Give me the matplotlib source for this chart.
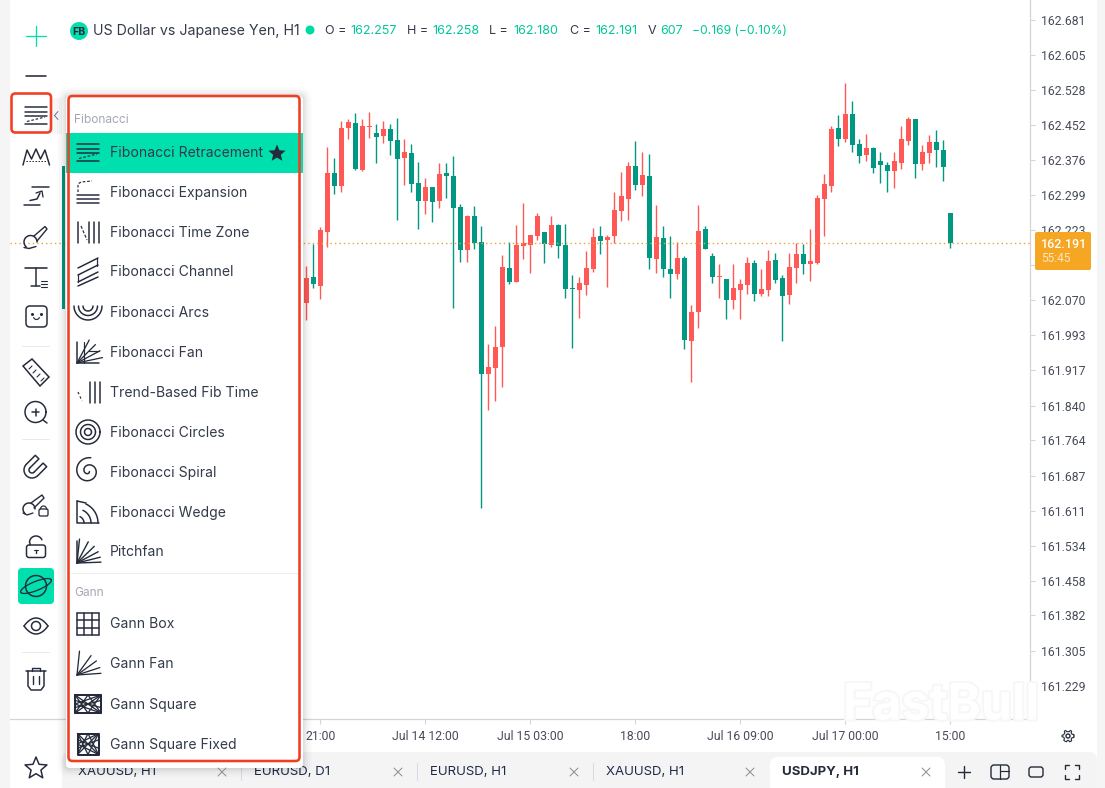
import numpy as np
import matplotlib
matplotlib.use('Agg')
import matplotlib.pyplot as plt
import matplotlib.patheffects as pe
from matplotlib.patches import Rectangle, FancyBboxPatch, Circle, Polygon

W, H = 1105, 788

# candle data (USDJPY H1), one value per candle
opens = [162.061, 162.118, 162.098, 162.216, 162.345, 162.316, 162.443, 162.454, 162.351, 162.445,
         162.432, 162.425, 162.441, 162.417, 162.377, 162.388, 162.323, 162.283, 162.314, 162.283,
         162.345, 162.338, 162.270, 162.177, 162.251, 162.194, 161.906, 161.919, 161.965, 162.137,
         162.107, 162.185, 162.187, 162.207, 162.216, 162.187, 162.231, 162.187, 162.094, 162.089,
         162.100, 162.135, 162.207, 162.198, 162.207, 162.262, 162.288, 162.360, 162.318, 162.338,
         162.157, 162.203, 162.135, 162.124, 162.159, 161.978, 162.041, 162.222, 162.163, 162.118,
         162.113, 162.067, 162.089, 162.100, 162.148, 162.081, 162.089, 162.155, 162.115, 162.078,
         162.137, 162.168, 162.146, 162.148, 162.288, 162.316, 162.443, 162.419, 162.473, 162.408,
         162.384, 162.399, 162.371, 162.362, 162.349, 162.366, 162.414, 162.462, 162.364, 162.388,
         162.412, 162.395, 162.257]
closes = [162.115, 162.102, 162.220, 162.345, 162.316, 162.443, 162.456, 162.353, 162.447, 162.447,
          162.423, 162.441, 162.414, 162.375, 162.390, 162.321, 162.283, 162.314, 162.281, 162.342,
          162.338, 162.268, 162.177, 162.251, 162.192, 161.906, 161.921, 161.965, 162.139, 162.107,
          162.187, 162.192, 162.209, 162.251, 162.190, 162.231, 162.185, 162.091, 162.092, 162.105,
          162.137, 162.205, 162.196, 162.205, 162.264, 162.294, 162.360, 162.318, 162.340, 162.159,
          162.205, 162.135, 162.124, 162.159, 161.980, 162.041, 162.218, 162.179, 162.118, 162.120,
          162.067, 162.094, 162.102, 162.148, 162.081, 162.091, 162.152, 162.111, 162.076, 162.139,
          162.168, 162.146, 162.152, 162.290, 162.321, 162.441, 162.419, 162.473, 162.406, 162.382,
          162.399, 162.355, 162.362, 162.349, 162.371, 162.419, 162.462, 162.364, 162.390, 162.412,
          162.395, 162.358, 162.191]
highs = [162.141, 162.189, 162.226, 162.401, 162.377, 162.457, 162.462, 162.475, 162.462, 162.477,
         162.451, 162.457, 162.451, 162.464, 162.418, 162.407, 162.368, 162.333, 162.314, 162.366,
         162.366, 162.381, 162.276, 162.253, 162.272, 162.228, 161.971, 162.010, 162.166, 162.193,
         162.230, 162.278, 162.209, 162.257, 162.216, 162.251, 162.233, 162.233, 162.122, 162.118,
         162.174, 162.224, 162.229, 162.209, 162.302, 162.346, 162.368, 162.414, 162.390, 162.387,
         162.274, 162.228, 162.206, 162.193, 162.163, 162.056, 162.274, 162.228, 162.169, 162.146,
         162.113, 162.147, 162.113, 162.161, 162.154, 162.134, 162.176, 162.169, 162.123, 162.171,
         162.191, 162.189, 162.222, 162.296, 162.342, 162.446, 162.470, 162.540, 162.501, 162.418,
         162.429, 162.401, 162.390, 162.368, 162.390, 162.446, 162.466, 162.462, 162.405, 162.427,
         162.438, 162.416, 162.258]
lows = [162.024, 162.094, 162.070, 162.184, 162.299, 162.303, 162.419, 162.351, 162.349, 162.421,
        162.366, 162.410, 162.384, 162.242, 162.318, 162.303, 162.222, 162.255, 162.238, 162.268,
        162.290, 162.050, 162.150, 162.150, 162.179, 161.614, 161.827, 161.847, 161.878, 162.102,
        162.107, 162.157, 162.126, 162.198, 162.148, 162.183, 162.159, 162.072, 161.963, 162.028,
        162.078, 162.129, 162.168, 162.096, 162.192, 162.240, 162.242, 162.307, 162.294, 162.135,
        162.126, 162.118, 162.072, 162.113, 161.960, 161.888, 162.006, 162.179, 162.105, 162.072,
        162.026, 162.048, 162.026, 162.081, 162.065, 162.076, 162.076, 162.105, 161.978, 162.059,
        162.105, 162.124, 162.109, 162.146, 162.207, 162.303, 162.403, 162.412, 162.390, 162.366,
        162.371, 162.345, 162.323, 162.303, 162.312, 162.353, 162.406, 162.334, 162.351, 162.366,
        162.358, 162.327, 162.180]
last_price = 162.191

# axis labels
price_ticks = [162.681, 162.605, 162.528, 162.452, 162.376, 162.299, 162.223, 162.146, 162.070, 161.993,
               161.917, 161.840, 161.764, 161.687, 161.611, 161.534, 161.458, 161.382, 161.305, 161.229]
hidden_tick = 162.146  # sits behind the price badge, only its tick mark shows
time_idx = [2, 17, 32, 47, 62, 77, 92]
time_labels = ['21:00', 'Jul 14 12:00', 'Jul 15 03:00', '18:00', 'Jul 16 09:00', 'Jul 17 00:00', '15:00']

# menu and tabs
fib_items = ['Fibonacci Retracement', 'Fibonacci Expansion', 'Fibonacci Time Zone', 'Fibonacci Channel',
             'Fibonacci Arcs', 'Fibonacci Fan', 'Trend-Based Fib Time', 'Fibonacci Circles',
             'Fibonacci Spiral', 'Fibonacci Wedge', 'Pitchfan']
gann_items = ['Gann Box', 'Gann Fan', 'Gann Square', 'Gann Square Fixed']
tab_names = ['XAUUSD, H1', 'EURUSD, D1', 'EURUSD, H1', 'XAUUSD, H1', 'USDJPY, H1']

RED = '#ff5855'
TEAL = '#009783'
MINT = '#00e0ae'
DARK = '#252b3b'
BORDER = '#f04024'
GRID = '#d4d5d8'
ORANGE = '#f5a623'

fig = plt.figure(figsize=(W / 100, H / 100), dpi=100, facecolor='white')

# main chart axes: 1 candle = 7 px, first candle at x = 306.3
ax = fig.add_axes([10 / W, (H - 719) / H, 1020 / W, 719 / H])
ax.set_xlim((10 - 306.3) / 7, (1030 - 306.3) / 7)
ax.set_ylim(162.722 - 719 * 0.002182, 162.722)

idx = np.arange(len(opens))
o, c, hi, lo = map(np.array, (opens, closes, highs, lows))
cols = [RED if a >= b else TEAL for a, b in zip(c, o)]
ax.vlines(idx, lo, hi, colors=cols, lw=1.0, zorder=2)
ax.bar(idx, np.maximum(np.abs(c - o), 0.0007), bottom=np.minimum(o, c), width=5 / 7, color=cols, zorder=3, lw=0)
ax.axhline(last_price, color='#e8a530', lw=1.0, ls=(0, (1, 2.2)), zorder=4)

for s in ('top', 'left'):
    ax.spines[s].set_visible(False)
for s in ('right', 'bottom'):
    ax.spines[s].set_color(GRID)
    ax.spines[s].set_linewidth(0.9)
ax.yaxis.tick_right()
ax.set_yticks(np.array(price_ticks) - 0.003)
ax.set_yticklabels(['' if p == hidden_tick else '%.3f' % p for p in price_ticks], family='Roboto', fontsize=8.8, color='#474c59')
ax.set_xticks(time_idx)
ax.set_xticklabels(time_labels, family='Roboto', fontsize=8.8, color='#474c59')
ax.tick_params(axis='y', length=3.6, width=0.8, color=GRID, pad=4.0)
ax.tick_params(axis='x', length=3.6, width=0.8, color=GRID, pad=4.0)

# overlay in pixel coordinates for the app chrome
over = fig.add_axes([0, 0, 1, 1], zorder=5)
over.set_xlim(0, W)
over.set_ylim(H, 0)
over.axis('off')
over.patch.set_alpha(0)


def ln(xs, ys, lw=1.5, col=DARK, **kw):
    kw.setdefault('solid_capstyle', 'round')
    over.plot(xs, ys, color=col, lw=lw * 0.72, zorder=5, **kw)


def rect(x, y, w, h, col, z=1, alpha=1.0):
    over.add_patch(Rectangle((x, y), w, h, fc=col, ec='none', zorder=z, alpha=alpha))


def rrect(x, y, w, h, r, fc='none', ec='none', lw=0, z=2):
    over.add_patch(FancyBboxPatch((x + r, y + r), w - 2 * r, h - 2 * r, boxstyle='round,pad=%f,rounding_size=%f' % (r, r),
                                  fc=fc, ec=ec, lw=lw * 0.72, zorder=z))


def txt(x, y, s, size=14, col=DARK, fam='Inter', **kw):
    kw.setdefault('va', 'center')
    z = kw.pop('z', 6)
    return over.text(x, y + 1, s, fontsize=size * 0.72, color=col, family=fam, zorder=z, **kw)


def arc(cx, cy, r, a0, a1, lw=1.5, col=DARK):
    t = np.radians(np.linspace(a0, a1, 40))
    ln(cx + r * np.cos(t), cy + r * np.sin(t), lw=lw, col=col)


def rays(x0, y0, angles, r, lw=1.4):
    for a in angles:
        t = np.radians(a)
        ln([x0, x0 + r * np.cos(t)], [y0, y0 - r * np.sin(t)], lw=lw)


# icons, all centred on (x, y)
def ic_retr(x, y):
    for dy in (-8, -3.5, 1, 8.5):
        ln([x - 11, x + 11], [y + dy, y + dy])
    ln([x - 9, x + 9], [y + 6.5, y + 2], ls=(0, (2.2, 1.5)), lw=1.2)


def ic_expand(x, y):
    for dy in (3, 7, 11):
        ln([x - 11, x + 11], [y + dy, y + dy])
    ln([x - 10, x - 10, x - 7, x + 4], [y + 0, y - 8, y - 10, y - 11], ls=(0, (2.2, 1.5)), lw=1.2)


def ic_timezone(x, y):
    for dx in (-10, 1, 6, 11):
        ln([x + dx, x + dx], [y - 10, y + 11])
    ln([x - 7, x - 1], [y - 6, y + 8], ls=(0, (2.5, 1.5)), lw=1.2)


def ic_channel(x, y):
    for dy in (-6, 1, 8):
        ln([x - 10, x + 10], [y + dy + 2, y + dy - 8])
    ln([x - 10, x + 10], [y + 14, y + 5])
    ln([x + 9, x + 9], [y - 14, y - 6], lw=1.2)
    ln([x - 10, x - 10], [y + 2, y + 10], lw=1.2)


def ic_arcs(x, y):
    for r in (5, 9.5, 14):
        arc(x, y - 6, r, 0, 180)


def ic_fan(x, y):
    ln([x - 11, x - 11, x + 11], [y - 10, y + 11, y + 11])
    ln([x - 4, x - 4], [y - 10, y + 11], lw=1.2)
    rays(x - 11, y + 11, (12, 28, 45, 62), 26, lw=1.3)
    ln([x + 1, x + 11], [y - 1, y - 1], lw=1.2)


def ic_trendfib(x, y):
    for dx in (2, 7, 12):
        ln([x + dx, x + dx], [y - 10, y + 11])
    ln([x - 10, x - 6], [y, y + 9], ls=(0, (2, 2)), lw=1.2)


def ic_circles(x, y):
    for r in (3.5, 7.5, 12):
        arc(x, y, r, 0, 360)


def ic_spiral(x, y):
    t = np.linspace(0, 3.4 * np.pi, 120)
    r = 1.2 + 1.15 * t
    ln(x + 0.3 + r * np.cos(t + 0.5), y - 1 + r * np.sin(t + 0.5))


def ic_wedge(x, y):
    ln([x + 11, x - 11, x - 11], [y + 11, y + 11, y - 11])
    for r in (7, 14, 21):
        arc(x - 11, y + 11, r, -65, 0)
    ln([x - 11, x - 2], [y - 11, y - 9])


def ic_pitchfan(x, y):
    rays(x - 11, y + 11, (2, 14, 28, 44, 62, 84), 24, lw=1.4)
    ln([x - 11, x - 11], [y + 11, y - 11])


def ic_box(x, y):
    for d in (-11, -3.7, 3.7, 11):
        ln([x + d, x + d], [y - 11, y + 11])
        ln([x - 11, x + 11], [y + d, y + d])


def ic_ganfan(x, y):
    rays(x - 11, y + 11, (4, 18, 36, 54, 84), 24, lw=1.3)


def gann_lines(x, y, hw, hh):
    ln([x - hw, x + hw, x + hw, x - hw, x - hw], [y - hh, y - hh, y + hh, y + hh, y - hh], lw=2.0)
    for a, b, c_, d in ((-1, -1, 1, 1), (-1, 1, 1, -1), (-1, 0, 1, 1), (-1, 0, 1, -1), (-1, 1, 0, -1),
                        (0, -1, 1, 1), (-1, -1, 0, 1), (0, 1, 1, -1), (-1, 0.4, 1, -0.4), (-1, -0.4, 1, 0.4)):
        ln([x + a * hw, x + c_ * hw], [y + b * hh, y + d * hh], lw=1.3)


def ic_square(x, y):
    gann_lines(x, y, 13, 9)


def ic_fixed(x, y):
    gann_lines(x, y, 10.5, 10.5)


def star(x, y, r, fc=DARK, ec='none', lw=0):
    a = np.radians(np.arange(10) * 36 - 90)
    rad = np.where(np.arange(10) % 2 == 0, r, r * 0.45)
    over.add_patch(Polygon(np.c_[x + rad * np.cos(a), y + rad * np.sin(a)], closed=True, fc=fc, ec=ec, lw=lw * 0.72,
                           joinstyle='round', zorder=7))


# page margins and tab strip
rect(0, 0, 10, H, '#f5f5f6')
rect(1097, 0, 8, H, '#f5f5f6')
rect(10, 752, 1087, 36, 'white')
rrect(62, 752, 1035, 50, 8, fc='#f4f4f5', z=1)
rect(52, 98, 10, 36, '#f6f6f7')
ln([58, 54.5, 58], [111.5, 115.5, 119.5], lw=0.9, col='#5b6a8c')
rect(62, 166, 3, 143, TEAL)

# header
over.add_patch(Circle((79, 31), 9, fc=MINT, ec='none'))
txt(79, 30.5, 'FB', 10.5, ha='center', weight='bold')
txt(93, 29.5, 'US Dollar vs Japanese Yen, H1', 14.2, col='#333a49')
over.add_patch(Circle((310, 30), 4.5, fc='#00dba4', ec='none'))
for x, lab, vx, val in ((325, 'O =', 350, '162.257'), (407, 'H =', 432, '162.258'), (489, 'L =', 513, '162.180'),
                        (570, 'C =', 595, '162.191'), (648, 'V', 660, '607')):
    txt(x, 29.5, lab, 12.5, col='#333a49')
    txt(vx, 29.5, val, 12.5, col='#00c79a')
txt(692, 29.5, '\u22120.169 (\u22120.10%)', 12.1, col='#00c79a')

# watermark
wm = txt(941, 705, 'FastBull', 50, col='white', weight='bold', ha='center', z=1)
wm.set_path_effects([pe.withStroke(linewidth=3.0, foreground='#f7f7f8')])

# last price badge
rrect(1035, 232, 56, 38, 2, fc=ORANGE, z=6)
txt(1041, 243, '162.191', 12.5, col='white', fam='Roboto', weight='medium', z=7)
txt(1041, 257, '55:45', 12, col='#fde6bd', fam='Roboto', z=7)

# tabs
for i, (name, x) in enumerate(zip(tab_names, (78, 254, 430, 606, 782))):
    if i == 4:
        rrect(770, 757, 175, 45, 8, fc='white', z=2)
    txt(x, 771, name, 13.2, col='#1f2a4a' if i < 4 else DARK, weight='normal' if i < 4 else 'bold', z=3)
    cx = x + 144
    ln([cx - 4, cx + 4], [768, 776], lw=1.0, col='#8b8f99')
    ln([cx - 4, cx + 4], [776, 768], lw=1.0, col='#8b8f99')
    if i < 3:
        rect(x + 163, 763, 1, 18, '#d9dadd', z=3)
ln([958, 970], [772, 772], lw=1.4)
ln([964, 964], [766, 778], lw=1.4)
rrect(991, 765, 18, 14, 3, ec=DARK, lw=1.4)
ln([1000, 1009], [771, 771], lw=1.2)
ln([1000, 1000], [765, 779], lw=1.2)
rrect(1029, 767, 14, 10, 2.5, ec=DARK, lw=1.4)
for sx, sy in ((-1, -1), (1, -1), (-1, 1), (1, 1)):
    ln([1072 + sx * 3, 1072 + sx * 7, 1072 + sx * 7], [772 + sy * 7, 772 + sy * 7, 772 + sy * 3], lw=1.4)
# gear
over.add_patch(Circle((1068, 736), 2.0, fc='none', ec=DARK, lw=1.0))
t = np.radians(np.linspace(0, 360, 49))
gr = 5.2 + 0.8 * np.sign(np.cos(6 * t))
ln(1068 + gr * np.cos(t), 736 + gr * np.sin(t), lw=1.1)

# dropdown panel: soft shadow, then the panel itself
for k, a in zip((9, 7, 5, 3, 1.5), (0.012, 0.018, 0.025, 0.03, 0.04)):
    rrect(66 - k, 96 - k, 237 + 2 * k, 672 + 2 * k, 4 + k, fc=(0, 0, 0, a), z=3)
rrect(66, 96, 237, 672, 4, fc='white', z=3)
rect(66, 133, 237, 40, MINT, z=3)
rect(71, 573, 229, 1, '#eceded', z=4)
txt(74, 119, 'Fibonacci', 12, col='#a4a8b2')
txt(74, 591.5, 'Gann', 12, col='#a4a8b2')

fib_icons = [ic_retr, ic_expand, ic_timezone, ic_channel, ic_arcs, ic_fan, ic_trendfib, ic_circles, ic_spiral,
             ic_wedge, ic_pitchfan]
gann_icons = [ic_box, ic_ganfan, ic_square, ic_fixed]
for i, (name, icon) in enumerate(zip(fib_items, fib_icons)):
    icon(88, 152 + 40 * i)
    txt(110, 151.5 + 40 * i, name, 14, col='#333a49')
for i, (name, icon) in enumerate(zip(gann_items, gann_icons)):
    icon(88, 624 + 40 * i)
    txt(110, 623.5 + 40 * i, name, 14, col='#333a49')
star(277, 153.5, 9)

# left toolbar
X = 36
ln([26, 46], [36, 36], lw=1.3, col=MINT)
ln([36, 36], [26, 46], lw=1.3, col=MINT)
ln([26, 46], [76, 76], lw=1.6)
ic_retr(X, 115)
# peaks
ln([23, 27, 31.5, 36, 40.5, 45, 49.5], [165, 150, 159, 149, 159, 150, 165], lw=1.5)
ln([26, 46], [161, 161], lw=1.0, ls=(0, (1.5, 1.5)))
# arrow
ln([31.5, 48.5], [186.5, 186.5], lw=1.5)
ln([23.5, 40], [205, 205], lw=1.5)
ln([30, 37, 40], [200.5, 199, 193], lw=1.5)
ln([36, 42, 43], [193, 191, 197], lw=1.3)
# brush
ln([34, 45, 47, 37], [236, 226.5, 229, 241], lw=1.4)
arc(30.5, 242, 6.5, 130, 360)
ln([24, 29, 36], [247.5, 248.5, 246.5], lw=1.4)
# text tool
ln([25, 47], [268, 268], lw=1.6)
ln([35.5, 35.5], [268, 286], lw=1.5)
ln([31, 40], [286, 286], lw=1.5)
for yy in (281, 284, 287):
    ln([41, 47], [yy, yy], lw=1.1)
# smiley
rrect(26, 306, 21, 21, 4, ec=DARK, lw=1.5)
over.plot([32, 41], [313.5, 313.5], 'o', ms=1.2, color=DARK, zorder=5)
arc(36.5, 316.5, 3, 20, 160, lw=1.2)
rect(22, 346, 28, 1, '#e9eaec')
# ruler
over.add_patch(Polygon([[23, 366], [32, 359], [49, 377], [40, 386]], closed=True, fc='none', ec=DARK, lw=1.1, zorder=5))
for a in range(4):
    ln([29 + a * 4, 32 + a * 4], [369 + a * 4, 366 + a * 4], lw=1.1)
# zoom
arc(35.5, 412, 10.5, 0, 360)
ln([43, 47], [420, 423], lw=1.5)
ln([32, 39], [412, 412], lw=1.5)
ln([35.5, 35.5], [408.5, 415.5], lw=1.5)
rect(22, 439, 28, 1, '#e9eaec')
# magnet
arc(32, 470, 8, 45, 225)
arc(32, 470, 3, 45, 225)
ln([37.7, 46.7, 43.1, 34.1], [475.7, 466.7, 463.1, 472.1])
ln([26.3, 35.3, 38.9, 29.9], [464.3, 455.3, 458.9, 467.9])
# brush with lock
ln([31, 42, 44, 34], [503, 495, 498, 508], lw=1.4)
arc(29, 509, 6, 130, 360)
ln([23, 27, 33], [513, 515, 513], lw=1.3)
rrect(39, 509, 9, 7, 1.5, ec=DARK, lw=1.3)
arc(43.5, 509, 3, 180, 360, lw=1.2)
# lock (open shackle)
rrect(26.5, 545, 19, 12.5, 2.5, ec=DARK, lw=1.5)
arc(36, 542.5, 6.5, 180, 335, lw=1.5)
ln([29.5, 29.5], [542.5, 545], lw=1.5)
ln([36, 36], [550, 553], lw=1.4)
ln([34, 38], [550, 550], lw=1.1)
# planet
rrect(18, 568, 36, 36, 4, fc=MINT, z=2)
arc(36, 586, 10.5, 0, 360, lw=1.5)
t = np.radians(np.linspace(0, 360, 60))
ex, ey = 16.5 * np.cos(t), 4.5 * np.sin(t)
rot = np.radians(-22)
ln(36 + ex * np.cos(rot) - ey * np.sin(rot), 586 + ex * np.sin(rot) + ey * np.cos(rot), lw=1.3)
# eye
t = np.linspace(-1, 1, 40)
ln(36 + 12 * t, 626 - 8 * (1 - t ** 2), lw=1.5)
ln(36 + 12 * t, 626 + 8 * (1 - t ** 2), lw=1.5)
arc(36, 626, 4.5, 0, 360)
rect(22, 652, 28, 1, '#e9eaec')
# trash
ln([26, 46], [671, 671], lw=1.5)
ln([32, 32, 40, 40], [671, 668, 668, 671], lw=1.4)
ln([28, 28, 31, 41, 44, 44], [671, 686, 690, 690, 686, 671], lw=1.5)
ln([33, 33], [676, 684], lw=1.4)
ln([39, 39], [676, 684], lw=1.4)
star(36, 768.5, 11.5, fc='white', ec=DARK, lw=1.5)

# red highlights
rrect(11.5, 93.5, 39.5, 39, 4, ec=BORDER, lw=2.6, z=8)
rrect(68.5, 96, 231, 665, 4, ec=BORDER, lw=2.6, z=8)

fig.savefig('out.png', dpi=100)
